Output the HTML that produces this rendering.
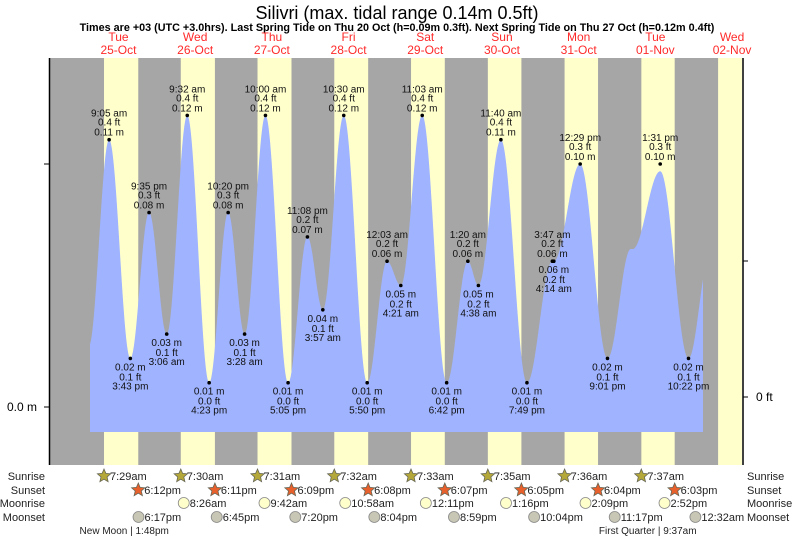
<!DOCTYPE html>
<html><head><meta charset="utf-8"><style>
body{margin:0;background:#fff;}
svg{display:block;font-family:"Liberation Sans",Arial,sans-serif;}
</style></head><body>
<svg id="chart" width="793" height="539" viewBox="0 0 793 539">
<text x="397" y="19" font-size="18" text-anchor="middle" fill="#000">Silivri (max. tidal range 0.14m 0.5ft)</text>
<text x="397" y="31" font-size="10.8" font-weight="bold" text-anchor="middle" fill="#000">Times are +03 (UTC +3.0hrs). Last Spring Tide on Thu 20 Oct (h=0.09m 0.3ft). Next Spring Tide on Thu 27 Oct (h=0.12m 0.4ft)</text>
<g id="days"></g>
<g id="plot"></g>
<g id="labels"></g>
<g id="bottom"></g>
</svg>
<script>
// ---- data ----
const dayNames = ["Tue","Wed","Thu","Fri","Sat","Sun","Mon","Tue","Wed"];
const dayDates = ["25-Oct","26-Oct","27-Oct","28-Oct","29-Oct","30-Oct","31-Oct","01-Nov","02-Nov"];
const sunriseTimes = ["7:29am","7:30am","7:31am","7:32am","7:33am","7:35am","7:36am","7:37am","7:38am"];
const sunsetTimes = ["6:12pm","6:11pm","6:09pm","6:08pm","6:07pm","6:05pm","6:04pm","6:03pm",""];
const moonriseTimes = ["","8:26am","9:42am","10:58am","12:11pm","1:16pm","2:09pm","2:52pm",""];
const moonsetTimes = ["6:17pm","6:45pm","7:20pm","8:04pm","8:59pm","10:04pm","11:17pm","12:32am",""];
const moonsetDay = [0,1,2,3,4,5,6,8,-1];
// tide extremes: hours since 25-Oct 00:00, heights in m
const tideHours = [2.7,9.08,15.72,21.58,27.1,33.53,40.38,46.33,51.47,58.0,65.08,71.13,75.95,82.5,89.83,96.05,100.35,107.05,114.7,121.33,124.63,131.67,139.82,147.78,148.23,156.48,165.02,172.3,172.9,181.52,190.37,197.0];
const tideHeights = [0.025,0.11,0.02,0.08,0.03,0.12,0.01,0.08,0.03,0.12,0.01,0.07,0.04,0.12,0.01,0.06,0.05,0.12,0.01,0.06,0.05,0.11,0.01,0.06,0.06,0.10,0.02,0.065,0.065,0.097,0.02,0.062];
const tideLabelIdx = [1,2,3,4,5,6,7,8,9,10,11,12,13,14,15,16,17,18,19,20,21,22,23,24,25,26,29,30];
const tideLabelTimes = ["9:05 am","3:43 pm","9:35 pm","3:06 am","9:32 am","4:23 pm","10:20 pm","3:28 am","10:00 am","5:05 pm","11:08 pm","3:57 am","10:30 am","5:50 pm","12:03 am","4:21 am","11:03 am","6:42 pm","1:20 am","4:38 am","11:40 am","7:49 pm","3:47 am","4:14 am","12:29 pm","9:01 pm","1:31 pm","10:22 pm"];
const tideLabelHigh = [1,0,1,0,1,0,1,0,1,0,1,0,1,0,1,0,1,0,1,0,1,0,1,0,1,0,1,0];
const firstMoon = ["New Moon | 1:48pm", 0, 13.8];
const quarterMoon = ["First Quarter | 9:37am", 7, 9.62];

// ---- axes ----
const X0=80.1, DAYW=76.7, PX=50, PX2=742, PY=58, PY2=465;
const xh = h => X0 + h*DAYW/24;
const ym = m => 407 - m*2430;
const NS="http://www.w3.org/2000/svg";
function mk(tag, attrs, parent){const e=document.createElementNS(NS,tag);for(const k in attrs)e.setAttribute(k,attrs[k]);parent.appendChild(e);return e;}
function tm(s){const m=s.match(/(\d+):(\d+)\s*(am|pm)/);let h=+m[1]%12;if(m[3]==="pm")h+=12;return h+ +m[2]/60;}

const days=document.getElementById('days'), plot=document.getElementById('plot'), labels=document.getElementById('labels'), bottom=document.getElementById('bottom');
const bg=mk('rect',{x:PX,y:PY,width:PX2-PX,height:PY2-PY,fill:'#a6a6a6'},days);


for(let d=0; d<dayNames.length; d++){
  const sr=xh(d*24+tm(sunriseTimes[d]));
  const ss=sunsetTimes[d]?xh(d*24+tm(sunsetTimes[d])):PX2;
  const r=mk('rect',{x:sr,y:PY,width:Math.min(ss,PX2)-sr,height:PY2-PY,fill:'#ffffcc'},days);
  
  
  const cx=xh(d*24+12);
  const t1=mk('text',{x:cx,y:41,'font-size':12,'text-anchor':'middle',fill:'#ff2a2a'},days); t1.textContent=dayNames[d];
  
  
  const t2=mk('text',{x:cx,y:54,'font-size':12,'text-anchor':'middle',fill:'#ff2a2a'},days); t2.textContent=dayDates[d];
  
  
}
function hAt(h){
  for(let i=0;i<tideHours.length-1;i++){
    if(h>=tideHours[i]&&h<=tideHours[i+1]){
      const f=(h-tideHours[i])/(tideHours[i+1]-tideHours[i]);
      return tideHeights[i]+(tideHeights[i+1]-tideHeights[i])*(1-Math.cos(Math.PI*f))/2;}
  }
  return tideHeights[tideHeights.length-1];
}
const hStart=(90-X0)*24/DAYW, hEnd=(703-X0)*24/DAYW;
let d='M'+xh(hStart)+' 432';
for(let h=hStart; h<=hEnd; h+=0.1){ d+=' L'+xh(h).toFixed(2)+' '+ym(hAt(h)).toFixed(2); }
d+=' L'+xh(hEnd)+' '+ym(hAt(hEnd))+' L'+xh(hEnd)+' 432 Z';
const area=mk('path',{d:d,fill:'#9fb3ff'},plot);


const ax=mk('line',{x1:49.5,y1:PY,x2:49.5,y2:PY2,stroke:'#000','stroke-width':1.5},plot);


const ax2=mk('line',{x1:743,y1:PY,x2:743,y2:PY2,stroke:'#000','stroke-width':1.5},plot);


mk('line',{x1:44,y1:407,x2:49,y2:407,stroke:'#000'},plot);
mk('line',{x1:44,y1:164,x2:49,y2:164,stroke:'#000'},plot);
mk('line',{x1:743,y1:397,x2:748,y2:397,stroke:'#000'},plot);
mk('line',{x1:743,y1:261,x2:748,y2:261,stroke:'#000'},plot);
const yl=mk('text',{x:37,y:411,'font-size':12,'text-anchor':'end'},plot); yl.textContent='0.0 m';


const yr=mk('text',{x:756,y:401,'font-size':12},plot); yr.textContent='0 ft';


for(let k=0;k<tideLabelIdx.length;k++){
  const i=tideLabelIdx[k], x=xh(tideHours[i]), m=tideHeights[i], y=ym(Math.round(m*100)/100);
  const ft=(Math.round(m*3.2808*10)/10).toFixed(1)+' ft', ms=(Math.round(m*100)/100).toFixed(2)+' m';
  const g=mk('g',{},labels);
  
  
  mk('circle',{cx:x,cy:y,r:1.8,fill:'#000'},g);
  const lines=tideLabelHigh[k]?[tideLabelTimes[k],ft,ms]:[ms,ft,tideLabelTimes[k]];
  const ys=tideLabelHigh[k]?[y-23,y-14,y-4]:[y+12,y+22,y+31];
  for(let j=0;j<3;j++){const t=mk('text',{x:x,y:ys[j],'font-size':10,'text-anchor':'middle',fill:'#111'},g);t.textContent=lines[j];}
}
const rowY=[480,494,507,521], rowNames=["Sunrise","Sunset","Moonrise","Moonset"];
rowNames.forEach((n,i)=>{
  const a=mk('text',{x:45,y:rowY[i],'font-size':11,'text-anchor':'end',fill:'#222'},bottom);a.textContent=n;
  
  
  const b=mk('text',{x:747,y:rowY[i],'font-size':11,fill:'#222'},bottom);b.textContent=n;
  
  
});
function star(cx,cy,fill,parent){let p='';for(let i=0;i<10;i++){const r=i%2?3.2:7,a=-Math.PI/2+i*Math.PI/5;p+=(i?'L':'M')+(cx+r*Math.cos(a)).toFixed(1)+' '+(cy+r*Math.sin(a)).toFixed(1);}return mk('path',{d:p+'Z',fill:fill,stroke:'#665',"stroke-width":0.8},parent);}
function ev(times,dayIdx,row,kind){
  for(let d=0;d<times.length;d++){ if(!times[d])continue;
    const dd=dayIdx?dayIdx[d]:d; const x=xh(dd*24+tm(times[d])); if(x>PX2)continue;
    const g=mk('g',{},bottom);
    
    
    const cy=rowY[row]-4;
    if(kind==='sr')star(x,cy,'#b5a83a',g);
    else if(kind==='ss')star(x,cy,'#e8602c',g);
    else mk('circle',{cx:x,cy:cy,r:5.5,fill:kind==='mr'?'#ffffcc':'#c8c6b4',stroke:'#888','stroke-width':0.8},g);
    const t=mk('text',{x:x+6,y:rowY[row],'font-size':11,fill:'#222'},g);t.textContent=times[d];
  }
}
ev(sunriseTimes.slice(0,8),null,0,'sr');
ev(sunsetTimes,null,1,'ss');
ev(moonriseTimes,null,2,'mr');
ev(moonsetTimes,moonsetDay,3,'ms');
[firstMoon,quarterMoon].forEach(p=>{
  const t=mk('text',{x:xh(p[1]*24+p[2]),y:534,'font-size':10,'text-anchor':'middle',fill:'#222'},bottom);t.textContent=p[0];
  
  
});
</script>
</body></html>
